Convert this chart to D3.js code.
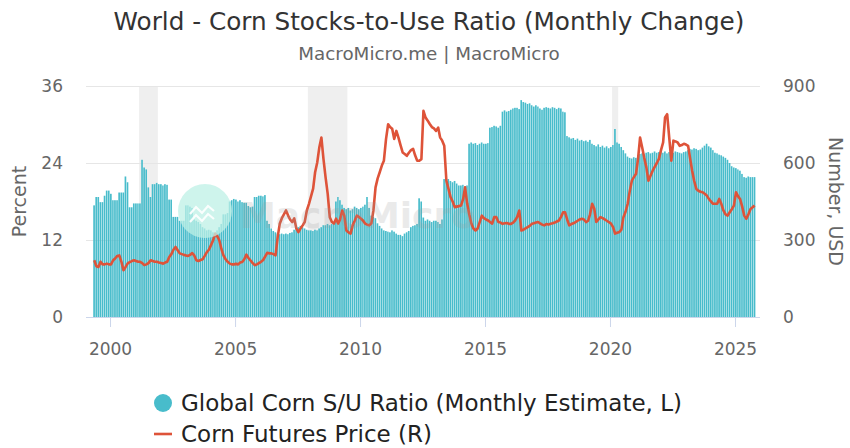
<!DOCTYPE html>
<html>
<head>
<meta charset="utf-8">
<script src="https://cdn.jsdelivr.net/npm/d3@7"></script>
<style>
  html, body { margin: 0; padding: 0; background: #fff; }
  svg { display: block; font-family: "DejaVu Sans", sans-serif; }
</style>
</head>
<body>
<svg id="chart" width="850" height="448"></svg>
<script>
// Global corn stocks-to-use ratio (%), monthly estimate; series starts May 1999
const startYear = 1999, startMonth = 4; // zero-based month: May
const ratio1999 = [17.4, 18.7, 18.7, 17.9, 17.9, 18.9, 19.7, 19.7];
const ratio2000 = [19.2, 18.2, 18.2, 18.2, 19.4, 19.4, 19.4, 21.9, 21.0, 17.1, 17.1, 17.7];
const ratio2001 = [17.7, 17.7, 17.7, 24.5, 23.3, 23.0, 20.2, 18.7, 20.7, 20.7, 20.9, 20.7];
const ratio2002 = [20.7, 20.5, 20.7, 20.6, 18.3, 18.3, 15.6, 15.6, 15.6, 15.0, 15.0, 15.0];
const ratio2003 = [17.4, 17.4, 17.2, 17.0, 15.2, 15.0, 14.8, 14.5, 14.0, 13.8, 13.5, 13.6];
const ratio2004 = [13.5, 13.2, 13.0, 13.5, 14.0, 14.5, 16.0, 16.0, 16.2, 18.0, 18.2, 18.4];
const ratio2005 = [18.3, 18.0, 18.2, 17.9, 17.8, 17.8, 17.3, 17.1, 17.2, 18.7, 18.7, 18.9];
const ratio2006 = [18.9, 18.8, 19.0, 15.0, 14.5, 13.8, 13.4, 13.2, 13.0, 12.9, 13.0, 12.9];
const ratio2007 = [13.0, 12.9, 13.1, 13.2, 13.6, 13.8, 14.0, 14.2, 14.0, 13.8, 13.6, 13.5];
const ratio2008 = [13.5, 13.4, 13.6, 13.5, 13.8, 14.0, 14.3, 14.3, 14.5, 14.3, 14.5, 14.6];
const ratio2009 = [18.0, 18.7, 18.2, 17.5, 17.0, 16.8, 17.0, 16.6, 16.8, 17.2, 17.0, 16.8];
const ratio2010 = [17.0, 17.2, 17.5, 18.7, 17.0, 15.8, 15.6, 15.4, 14.6, 14.2, 13.8, 13.5];
const ratio2011 = [13.4, 13.3, 13.2, 13.5, 13.3, 13.0, 12.8, 12.8, 12.6, 13.0, 13.2, 13.4];
const ratio2012 = [14.0, 14.2, 14.3, 14.5, 18.5, 18.0, 15.5, 15.0, 15.2, 15.0, 14.8, 15.0];
const ratio2013 = [15.0, 14.8, 14.5, 15.2, 21.5, 21.9, 21.5, 21.2, 21.0, 21.2, 20.8, 20.5];
const ratio2014 = [20.5, 20.6, 20.3, 20.5, 27.0, 27.2, 27.0, 27.1, 26.8, 27.0, 27.2, 27.0];
const ratio2015 = [27.0, 27.1, 29.5, 29.6, 29.8, 29.7, 29.5, 29.8, 32.0, 32.2, 32.0, 32.1];
const ratio2016 = [32.3, 32.5, 32.6, 32.6, 32.4, 33.8, 33.5, 33.4, 33.2, 33.3, 33.0, 32.8];
const ratio2017 = [33.0, 32.8, 32.5, 32.3, 32.6, 32.7, 32.6, 32.5, 32.7, 32.6, 32.4, 32.6];
const ratio2018 = [32.5, 32.0, 31.9, 28.2, 28.0, 27.8, 27.9, 27.6, 27.8, 27.5, 27.6, 27.4];
const ratio2019 = [27.5, 27.3, 27.6, 27.0, 26.8, 26.6, 26.9, 26.5, 26.7, 26.4, 26.6, 26.3];
const ratio2020 = [26.5, 26.8, 29.3, 27.2, 27.0, 26.5, 26.0, 25.5, 25.0, 24.8, 24.7, 24.9];
const ratio2021 = [24.8, 25.2, 25.4, 25.5, 25.3, 25.6, 25.7, 25.5, 25.6, 25.8, 25.6, 25.7];
const ratio2022 = [25.7, 25.6, 25.8, 25.5, 25.7, 25.9, 25.6, 25.8, 25.7, 25.6, 25.5, 25.7];
const ratio2023 = [25.8, 26.0, 26.2, 26.1, 26.3, 26.2, 26.0, 26.1, 26.4, 26.7, 27.0, 26.6];
const ratio2024 = [26.4, 26.0, 25.6, 25.5, 25.3, 25.2, 25.0, 24.8, 24.5, 24.0, 23.5, 23.3];
const ratio2025 = [23.2, 23.0, 22.8, 22.3, 21.8, 21.7, 21.9, 21.8, 21.8, 21.8];

// Corn futures price (US cents per bushel), monthly; same start month
const price1999 = [221, 198, 195, 215, 205, 205, 208, 205];
const price2000 = [205, 221, 228, 238, 240, 215, 182, 195, 209, 214, 218, 221];
const price2001 = [218, 215, 215, 210, 202, 205, 210, 221, 218, 215, 215, 212];
const price2002 = [210, 208, 212, 215, 234, 245, 262, 273, 260, 248, 245, 242];
const price2003 = [240, 238, 242, 249, 240, 221, 218, 222, 225, 238, 253, 262];
const price2004 = [280, 299, 325, 315, 299, 265, 240, 225, 215, 208, 205, 205];
const price2005 = [207, 205, 212, 214, 225, 243, 230, 220, 210, 202, 205, 210];
const price2006 = [215, 222, 235, 250, 248, 248, 245, 240, 311, 363, 385, 400];
const price2007 = [415, 395, 380, 370, 384, 345, 331, 345, 357, 370, 415, 440];
const price2008 = [470, 500, 564, 602, 660, 699, 616, 544, 480, 389, 370, 364];
const price2009 = [383, 364, 380, 415, 395, 337, 330, 325, 357, 375, 395, 390];
const price2010 = [383, 375, 364, 360, 357, 365, 415, 505, 540, 564, 590, 609];
const price2011 = [693, 751, 740, 733, 694, 725, 700, 670, 641, 635, 628, 640];
const price2012 = [650, 655, 630, 609, 609, 615, 803, 777, 765, 752, 740, 735];
const price2013 = [725, 738, 700, 687, 667, 531, 500, 467, 450, 428, 430, 432];
const price2014 = [434, 460, 505, 442, 400, 364, 345, 337, 345, 370, 395, 385];
const price2015 = [380, 376, 370, 364, 389, 389, 370, 368, 363, 365, 366, 363];
const price2016 = [363, 368, 376, 390, 415, 337, 340, 345, 350, 355, 363, 365];
const price2017 = [368, 370, 365, 360, 357, 362, 360, 363, 365, 368, 372, 376];
const price2018 = [390, 408, 408, 380, 357, 362, 365, 370, 375, 380, 383, 380];
const price2019 = [370, 375, 400, 441, 423, 370, 380, 389, 385, 380, 375, 370];
const price2020 = [364, 350, 325, 328, 331, 340, 389, 410, 441, 490, 531, 545];
const price2021 = [558, 620, 699, 660, 620, 583, 531, 550, 570, 585, 600, 616];
const price2022 = [650, 680, 777, 790, 699, 609, 687, 684, 680, 667, 670, 675];
const price2023 = [672, 667, 620, 570, 530, 499, 492, 488, 486, 480, 473, 460];
const price2024 = [450, 441, 441, 441, 460, 440, 415, 400, 395, 408, 420, 434];
const price2025 = [486, 470, 460, 430, 395, 383, 400, 421, 428, 434];

// US recession periods shaded behind the series
const recessionStarts = ["2001-03-01", "2007-12-01", "2020-02-01"];
const recessionEnds   = ["2001-11-30", "2009-06-30", "2020-04-30"];

const leftTicks = [0, 12, 24, 36];
const rightTicks = [0, 300, 600, 900];
const yearTicks = [2000, 2005, 2010, 2015, 2020, 2025];

const titleText = "World - Corn Stocks-to-Use Ratio (Monthly Change)";
const subtitleText = "MacroMicro.me | MacroMicro";
const barLabel = "Global Corn S/U Ratio (Monthly Estimate, L)";
const lineLabel = "Corn Futures Price (R)";

// ---- assemble monthly records
const ratioByYear = [ratio1999, ratio2000, ratio2001, ratio2002, ratio2003, ratio2004, ratio2005,
  ratio2006, ratio2007, ratio2008, ratio2009, ratio2010, ratio2011, ratio2012, ratio2013, ratio2014,
  ratio2015, ratio2016, ratio2017, ratio2018, ratio2019, ratio2020, ratio2021, ratio2022, ratio2023,
  ratio2024, ratio2025];
const priceByYear = [price1999, price2000, price2001, price2002, price2003, price2004, price2005,
  price2006, price2007, price2008, price2009, price2010, price2011, price2012, price2013, price2014,
  price2015, price2016, price2017, price2018, price2019, price2020, price2021, price2022, price2023,
  price2024, price2025];
const ratio = ratioByYear.flat();
const price = priceByYear.flat();
const months = ratio.map((_, i) => new Date(startYear, startMonth + i, 1));

const plot = { left: 86, right: 760, top: 86, bottom: 317 };
const BAR = "#48bccb", LINE = "#de5339", AXIS_TEXT = "#666";

const svg = d3.select("#chart");

const x = d3.scaleTime()
  .domain([new Date(1999, 0, 15), new Date(2026, 0, 1)])
  .range([plot.left, plot.right]);
const yL = d3.scaleLinear().domain([0, 36]).range([plot.bottom, plot.top]);
const yR = d3.scaleLinear().domain([0, 900]).range([plot.bottom, plot.top]);

// recession bands
svg.append("g").selectAll("rect")
  .data(recessionStarts.map((s, i) => [new Date(s), new Date(recessionEnds[i])]))
  .join("rect")
  .attr("x", d => x(d[0]))
  .attr("width", d => x(d[1]) - x(d[0]))
  .attr("y", plot.top)
  .attr("height", plot.bottom - plot.top)
  .attr("fill", "#efefef");

// horizontal grid
svg.append("g").selectAll("line")
  .data(leftTicks)
  .join("line")
  .attr("x1", plot.left).attr("x2", plot.right)
  .attr("y1", d => Math.round(yL(d)) + 0.5).attr("y2", d => Math.round(yL(d)) + 0.5)
  .attr("stroke", d => d === 0 ? "#ccd6eb" : "#e6e6e6");

// bars
svg.append("g").selectAll("rect")
  .data(ratio)
  .join("rect")
  .attr("x", (d, i) => x(months[i]))
  .attr("width", (d, i) => Math.max(0.5, x(new Date(startYear, startMonth + i + 1, 1)) - x(months[i]) - 0.45))
  .attr("y", d => yL(d))
  .attr("height", d => yL(0) - yL(d))
  .attr("fill", BAR);

// price line
const line = d3.line()
  .x((d, i) => x(months[i]) + 1)
  .y(d => yR(d));
svg.append("path")
  .datum(price)
  .attr("d", line)
  .attr("fill", "none")
  .attr("stroke", LINE)
  .attr("stroke-width", 2.6)
  .attr("stroke-linejoin", "round");

// watermark
const wm = svg.append("g").attr("pointer-events", "none");
wm.append("circle").attr("cx", 205).attr("cy", 211).attr("r", 27)
  .attr("fill", "#bdf0e6").attr("opacity", 0.75);
wm.append("path")
  .attr("d", "M190,214 l6,-7 l6,6 l6,-7 l6,5 M190,222 l6,-7 l6,6 l6,-7 l6,5")
  .attr("fill", "none").attr("stroke", "#fff").attr("stroke-width", 2.2).attr("opacity", 0.9);
wm.append("text").attr("x", 240).attr("y", 228)
  .attr("font-size", 36).attr("font-weight", "bold")
  .attr("fill", "#9a9a9a").attr("opacity", 0.2)
  .text("MacroMicro");

// x axis
const xAxis = svg.append("g")
  .attr("transform", `translate(0,${plot.bottom})`)
  .call(d3.axisBottom(x)
    .tickValues(yearTicks.map(y => new Date(y, 0, 1)))
    .tickFormat(d3.timeFormat("%Y"))
    .tickSize(10).tickPadding(16));
xAxis.select(".domain").remove();
xAxis.selectAll(".tick line").attr("stroke", "#ccd6eb");
xAxis.selectAll("text").attr("font-size", 17).attr("fill", AXIS_TEXT)
  .attr("font-family", "DejaVu Sans, sans-serif");

// left axis
const lAxis = svg.append("g")
  .attr("transform", `translate(${plot.left},0)`)
  .call(d3.axisLeft(yL).tickValues(leftTicks).tickSize(0).tickPadding(23));
lAxis.select(".domain").remove();
lAxis.selectAll("text").attr("font-size", 17).attr("fill", AXIS_TEXT)
  .attr("font-family", "DejaVu Sans, sans-serif");

// right axis
const rAxis = svg.append("g")
  .attr("transform", `translate(${plot.right},0)`)
  .call(d3.axisRight(yR).tickValues(rightTicks).tickSize(0).tickPadding(23));
rAxis.select(".domain").remove();
rAxis.selectAll("text").attr("font-size", 17).attr("fill", AXIS_TEXT)
  .attr("font-family", "DejaVu Sans, sans-serif");

// axis titles
svg.append("text")
  .attr("transform", `translate(26,${(plot.top + plot.bottom) / 2}) rotate(-90)`)
  .attr("text-anchor", "middle").attr("font-size", 19).attr("fill", AXIS_TEXT)
  .text("Percent");
svg.append("text")
  .attr("transform", `translate(829,${(plot.top + plot.bottom) / 2}) rotate(90)`)
  .attr("text-anchor", "middle").attr("font-size", 19).attr("fill", AXIS_TEXT)
  .text("Number, USD");

// title & subtitle
svg.append("text").attr("x", 429).attr("y", 30)
  .attr("text-anchor", "middle").attr("font-size", 24.7).attr("fill", "#333")
  .text(titleText);
svg.append("text").attr("x", 429).attr("y", 60)
  .attr("text-anchor", "middle").attr("font-size", 18.3).attr("fill", "#666")
  .text(subtitleText);

// legend
const lg = svg.append("g");
lg.append("circle").attr("cx", 163).attr("cy", 403).attr("r", 9).attr("fill", BAR);
lg.append("text").attr("x", 181).attr("y", 411).attr("font-size", 23).attr("fill", "#222")
  .text(barLabel);
lg.append("line").attr("x1", 154).attr("x2", 172).attr("y1", 434).attr("y2", 434)
  .attr("stroke", LINE).attr("stroke-width", 2.6);
lg.append("text").attr("x", 181).attr("y", 442).attr("font-size", 23).attr("fill", "#222")
  .text(lineLabel);
</script>
</body>
</html>
